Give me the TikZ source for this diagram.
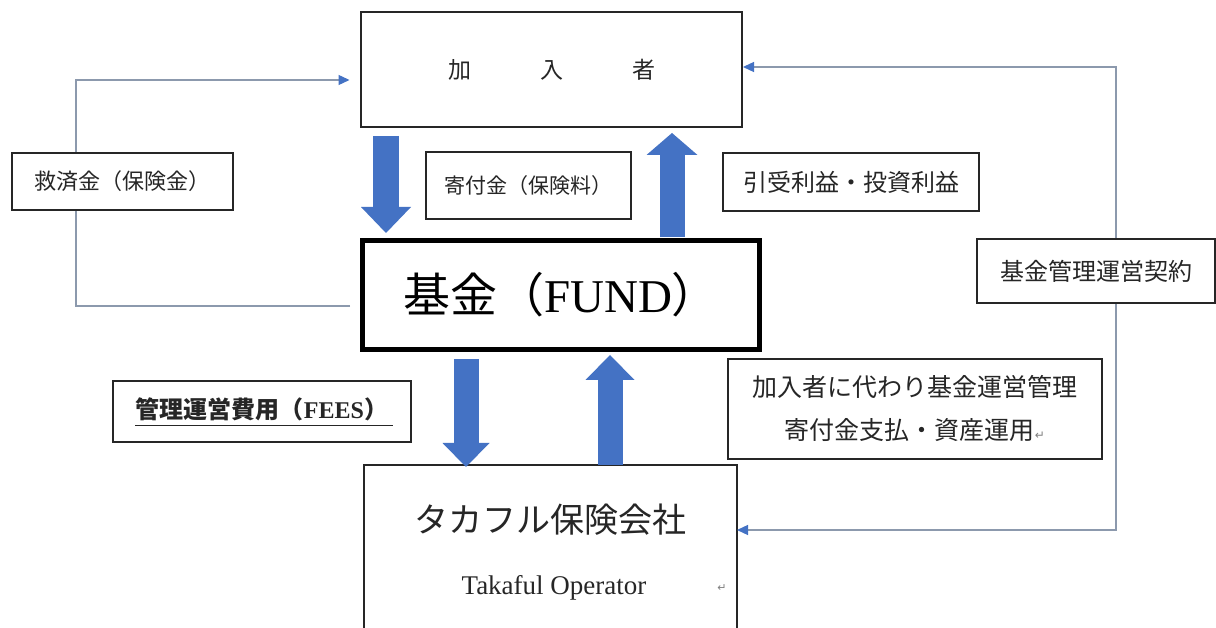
\documentclass[tikz,border=0pt]{standalone}
\usepackage{fontspec}
\setmainfont{Liberation Serif}
\newfontfamily\cjk{Noto Sans CJK JP}
\newfontfamily\dv{DejaVu Sans}
\usetikzlibrary{arrows.meta,calc}
\definecolor{blk}{HTML}{4472C4}
\definecolor{lineg}{HTML}{8C99AD}
\definecolor{txt}{HTML}{262626}
\newcommand{\myfs}[1]{\fontsize{#1}{#1}\selectfont}
\begin{document}
\begin{tikzpicture}[x=1pt,y=1pt,
  box/.style={draw=black!85, line width=1.6pt, fill=white, inner sep=0pt, outer sep=0pt, align=center, text=txt},
  conn/.style={draw=lineg, line width=1.3pt, -{Triangle[length=11pt,width=10pt,color=blk]}},
  connboth/.style={draw=lineg, line width=1.3pt, {Triangle[length=11pt,width=10pt,color=blk]}-{Triangle[length=11pt,width=10pt,color=blk]}},
  blockarr/.style={draw=blk, line width=#1}
]
\clip (0,0) rectangle (1216,627);
\fill[white] (0,0) rectangle (1216,627);

% main nodes
\node[box, minimum width=381pt, minimum height=115pt, font={\cjk\myfs{23pt}}] (mem) at (551.5,557.5) {加\hspace{69pt}入\hspace{69pt}者};
\node[box, line width=5pt, draw=black, minimum width=397pt, minimum height=109pt, font={\myfs{47pt}}, text=black] (fund) at (561,332) {{\cjk 基金（}FUND{\cjk ）}};
\node[box, minimum width=373pt, minimum height=200pt] (tak) at (550.5,62) {};
\node[font={\cjk\myfs{34pt}}, text=txt, inner sep=0pt] (takj) at ([yshift=-55pt]tak.north) {タカフル保険会社};
\node[font={\myfs{27pt}}, text=txt, inner sep=0pt] (take) at ([shift={(3.5pt,-123pt)}]tak.north) {Takaful Operator};
\node[font={\dv\myfs{11pt}}, text=gray, inner sep=0pt] (ret1) at (722,39) {↵};

% thin connectors
\draw[conn] ([shift={(-12.5pt,-11pt)}]fund.west) -- ++(-274,0) |- ([shift={(-11.5pt,-10.5pt)}]mem.west);
\draw[connboth] ([yshift=35pt]tak.east) -- ++(379,0) |- ([shift={(1pt,2.5pt)}]mem.east);

% label boxes
\node[box, minimum width=221pt, minimum height=57pt, font={\cjk\myfs{22pt}}] (kyu) at (122.5,445.5) {救済金（保険金）};
\node[box, minimum width=205pt, minimum height=67pt, font={\cjk\myfs{21pt}}] (kif) at (528.5,441.5) {寄付金（保険料）};
\node[box, minimum width=256pt, minimum height=58pt, font={\cjk\myfs{24pt}}] (hik) at (851,445) {引受利益・投資利益};
\node[box, minimum width=238pt, minimum height=64pt, font={\cjk\myfs{24pt}}] (kik) at (1096,356) {基金管理運営契約};
\node[box, minimum width=298pt, minimum height=61pt, font={\myfs{24pt}\bfseries}] (fee) at (262,215.5) {\rule[-6pt]{0pt}{1pt}{\cjk\bfseries 管理運営費用（}FEES{\cjk\bfseries ）}};
\draw[line width=1.4pt, draw=txt] ([shift={(-127pt,-14pt)}]fee.center) -- ([shift={(131pt,-14pt)}]fee.center);
\node[box, minimum width=374pt, minimum height=100pt, font={\cjk\fontsize{25pt}{43pt}\selectfont}] (dai) at (915,218) {加入者に代わり基金運営管理\\寄付金支払・資産運用{\dv\myfs{12pt}\color{gray}↵}};

% block arrows
\draw[blockarr=26pt, -{Triangle[length=26pt,width=50pt,line width=0pt]}] ([shift={(-165.5pt,-9pt)}]mem.south) -- ([shift={(-175pt,7.5pt)}]fund.north);
\draw[blockarr=25pt, -{Triangle[length=22pt,width=51pt,line width=0pt]}] ([shift={(111pt,3.5pt)}]fund.north) -- ([shift={(120.5pt,-6pt)}]mem.south);
\draw[blockarr=25pt, -{Triangle[length=24pt,width=47pt,line width=0pt]}] ([shift={(-95pt,-9.5pt)}]fund.south) -- ([shift={(-84.5pt,-2pt)}]tak.north);
\draw[blockarr=25pt, -{Triangle[length=25pt,width=49pt,line width=0pt]}] ([shift={(59.5pt,0pt)}]tak.north) -- ([shift={(49pt,-5.5pt)}]fund.south);
\end{tikzpicture}
\end{document}
